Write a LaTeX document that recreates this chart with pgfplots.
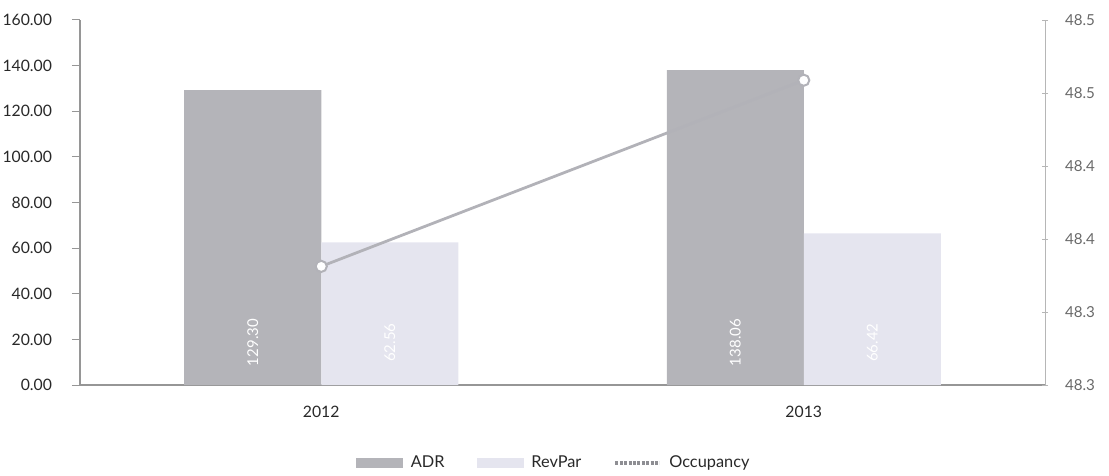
\documentclass[border=0pt]{standalone}
\usepackage{pgfplots}
\pgfplotsset{compat=1.18}
\usepackage{fontspec}
\setmainfont{Lato}
\definecolor{adr}{RGB}{180,180,185}
\definecolor{revpar}{RGB}{229,229,239}
\definecolor{occ}{RGB}{178,178,184}
\definecolor{axisgray}{RGB}{150,150,150}
\definecolor{txt}{RGB}{40,40,40}
\begin{document}
\begin{tikzpicture}
\begin{axis}[
  name=ax,
  scale only axis,
  width=482.5bp, height=182.5bp,
  xmin=-0.5, xmax=1.5,
  ymin=0, ymax=160,
  ybar=0pt, bar width=68.5bp,
  axis y line*=left, axis x line*=bottom,
  axis line style={axisgray, line width=0.6pt},
  xtick={0,1}, xticklabels={2012,2013},
  extra x ticks={0.5}, extra x tick labels={},
  extra x tick style={major tick length=3bp, tick style={axisgray}},
  major x tick style={draw=none},
  ytick={0,20,...,160},
  /pgf/number format/fixed, /pgf/number format/fixed zerofill, /pgf/number format/precision=2,
  tick style={axisgray, line width=0.5pt},
  major tick length=4bp,
  tick align=outside,
  every tick label/.append style={font=\fontsize{7.9}{9.5}\selectfont, text=txt},
  yticklabel style={xshift=-6.5bp},
  xticklabel style={yshift=-3bp},
  /pgf/number format/assume math mode=true,
  clip=false,
]
\addplot[fill=adr, draw=none, bar shift=-34.25bp] coordinates {(0,129.30) (1,138.06)};
\addplot[fill=revpar, draw=none, bar shift=34.25bp] coordinates {(0,62.56) (1,66.42)};
% value labels inside bars
\addplot[draw=none, fill=none, bar shift=-34.25bp, point meta=explicit symbolic,
  nodes near coords,
  every node near coord/.append style={anchor=center, rotate=90, text=white, font=\fontsize{7.5}{9}\selectfont}]
  coordinates {(0,18.6) [129.30] (1,18.6) [138.06]};
\addplot[draw=none, fill=none, bar shift=34.25bp, point meta=explicit symbolic,
  nodes near coords,
  every node near coord/.append style={anchor=center, rotate=90, text=white, font=\fontsize{7.5}{9}\selectfont}]
  coordinates {(0,18.6) [62.56] (1,18.6) [66.42]};
\end{axis}
\begin{axis}[
  scale only axis,
  width=482.5bp, height=182.5bp,
  xmin=-0.5, xmax=1.5,
  ymin=48.30, ymax=48.50,
  axis y line*=right, axis x line=none,
  axis line style={axisgray!70, line width=0.5pt},
  ytick={48.30,48.34,48.38,48.42,48.46,48.50},
  yticklabels={48.3,48.3,48.4,48.4,48.5,48.5},
  tick style={axisgray!70, line width=0.4pt},
  major tick length=3bp,
  tick align=center,
  every tick label/.append style={font=\fontsize{7.6}{9}\selectfont, text=txt!70},
  yticklabel style={xshift=5bp},
  clip=false,
  legend columns=3,
  legend style={draw=none, fill=none, at={(0.492,-0.2137)}, anchor=center,
    font=\fontsize{8.2}{10}\selectfont, text=txt,
    /tikz/every odd column/.append style={column sep=2bp},
    /tikz/every even column/.append style={column sep=14bp}},
]
\addlegendimage{legend image code/.code={\fill[adr] (0bp,-2.2bp) rectangle (23bp,2.2bp);}}
\addlegendentry{ADR}
\addlegendimage{legend image code/.code={\fill[revpar] (0bp,-2.2bp) rectangle (23bp,2.2bp);}}
\addlegendentry{RevPar}
\addplot[occ, line width=1.4pt, mark=*, mark size=2.8bp,
  mark options={fill=white, draw=occ, line width=1pt},
  legend image code/.code={\draw[occ!80!black, line width=2pt, dash pattern=on 1.5bp off 0.7bp] (0bp,0bp) -- (22bp,0bp);}]
  coordinates {(0,48.365) (1,48.467)};
\addlegendentry{Occupancy}
\end{axis}
\pgfresetboundingbox
\path (ax.south west) ++(-40bp,-45.5bp) rectangle ++(554.5bp,238bp);
\end{tikzpicture}
\end{document}
